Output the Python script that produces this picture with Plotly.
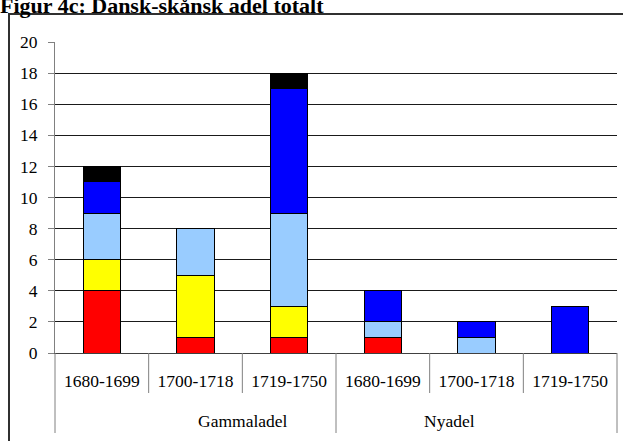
import plotly.graph_objects as go

# stacked counts per period, bottom to top
groups = ["Gammaladel", "Nyadel"]
periods = ["1680-1699", "1700-1718", "1719-1750"] * 2
cats = [f"{g} {p}" for g in groups for p in periods[:3]]

red = [4, 1, 1, 1, 0, 0]
yellow = [2, 4, 2, 0, 0, 0]
lightblue = [3, 3, 6, 1, 1, 0]
blue = [2, 0, 8, 2, 1, 3]
black = [1, 0, 1, 0, 0, 0]

series = [
    ("Serie 1", red, "#FF0000"),
    ("Serie 2", yellow, "#FFFF00"),
    ("Serie 3", lightblue, "#99CCFF"),
    ("Serie 4", blue, "#0000FF"),
    ("Serie 5", black, "#000000"),
]

fig = go.Figure()
for name, vals, col in series:
    fig.add_trace(go.Bar(
        x=cats, y=vals, name=name,
        marker=dict(color=col, line=dict(color="black", width=1)),
        showlegend=False,
    ))

W, H = 623, 441
ml, mr, mt, mb = 55, 6, 42, 88
pw, ph = W - ml - mr, H - mt - mb
serif = "'Liberation Serif', 'Times New Roman', serif"

fig.update_layout(
    barmode="stack", bargap=0.6,
    width=W, height=H,
    margin=dict(l=ml, r=mr, t=mt, b=mb, autoexpand=False),
    paper_bgcolor="white", plot_bgcolor="white",
    font=dict(family=serif, size=17.5, color="black"),
)
fig.update_yaxes(
    range=[0, 20], dtick=2, showgrid=True, gridcolor="#1a1a1a", gridwidth=1,
    showline=True, linecolor="#808080", linewidth=1,
    ticks="outside", ticklen=6, tickcolor="#808080", zeroline=False,
    ticklabelstandoff=7,
)
fig.update_xaxes(
    type="category", tickvals=cats, ticktext=periods, ticks="",
    showline=True, linecolor="#404040", linewidth=1,
    ticklabelstandoff=12,
)

# category separators below the axis
n = len(cats)
for k in range(n + 1):
    deep = k % 3 == 0
    fig.add_shape(type="line", xref="paper", yref="paper",
                  x0=k / n, x1=k / n, y0=0, y1=-(80 if deep else 40) / ph,
                  line=dict(color="#808080", width=1))

for i, g in enumerate(groups):
    fig.add_annotation(text=g, xref="paper", yref="paper", x=(i + 0.5) / 2,
                       y=-68 / ph, yanchor="middle", showarrow=False,
                       font=dict(family=serif, size=17.5))

# outer chart frame
fig.add_shape(type="rect", xref="paper", yref="paper",
              x0=(9 - ml) / pw, x1=(640 - ml) / pw,
              y0=(H - mb - 460) / ph, y1=(H - mb - 14) / ph,
              line=dict(color="#303030", width=2))

fig.add_annotation(text="<b>Figur 4c: Dansk-skånsk adel totalt</b>",
                   xref="paper", yref="paper", x=(-2 - ml) / pw,
                   y=(H - mb - 20) / ph, xanchor="left", yanchor="bottom",
                   showarrow=False, font=dict(family=serif, size=22))

fig.write_html("out.html", config={"displayModeBar": False},
               post_script="document.body.style.margin='0px';")
